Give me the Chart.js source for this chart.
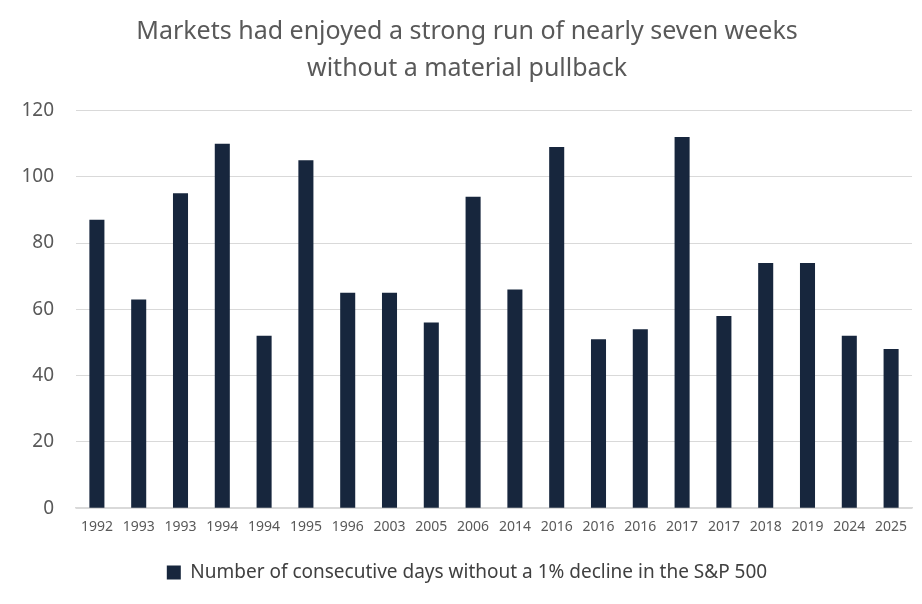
<!DOCTYPE html>
<html>
<head>
<meta charset="utf-8">
<script src="https://cdn.jsdelivr.net/npm/chart.js@4/dist/chart.umd.min.js"></script>
<style>
  html, body { margin: 0; padding: 0; background: #fff; }
  #wrap { width: 922px; height: 604px; }
</style>
</head>
<body>
<div id="wrap"><canvas id="myChart"></canvas></div>
<script>
"use strict";

const years = ["1992", "1993", "1993", "1994", "1994", "1995", "1996", "2003", "2005", "2006",
  "2014", "2016", "2016", "2016", "2017", "2017", "2018", "2019", "2024", "2025"];
const days = [87, 63, 95, 110, 52, 105, 65, 65, 56, 94, 66, 109, 51, 54, 112, 58, 74, 74, 52, 48];
const seriesLabel = "Number of consecutive days without a 1% decline in the S&P 500";
const titleLines = ["Markets had enjoyed a strong run of nearly seven weeks", "without a material pullback"];

const config = {
  type: "bar",
  data: {
    labels: years,
    datasets: [
      {
        label: seriesLabel,
        data: days,
        backgroundColor: "#17263d",
        borderWidth: 0,
        categoryPercentage: 1.0,
        barPercentage: 0.36,
      },
    ],
  },
  options: {
    responsive: true,
    maintainAspectRatio: false,
    animation: false,
    layout: { padding: { left: 22, right: 10, top: 10, bottom: 12 } },
    plugins: {
      title: {
        display: true,
        text: titleLines,
        color: "#595959",
        font: { family: "Noto Sans", size: 25, weight: "normal", lineHeight: 1.45 },
        padding: { top: 4, bottom: 24 },
      },
      legend: {
        position: "bottom",
        labels: {
          color: "#404040",
          font: { family: "Noto Sans", size: 19 },
          boxWidth: 14,
          boxHeight: 14,
          padding: 26,
        },
      },
      tooltip: { enabled: false },
    },
    scales: {
      x: {
        grid: { display: false },
        border: { color: "#d9d9d9", width: 1.5 },
        ticks: { color: "#595959", font: { family: "Noto Sans", size: 14 }, maxRotation: 0, autoSkip: false, padding: 2 },
      },
      y: {
        min: 0,
        max: 120,
        grid: { color: "#d9d9d9", drawTicks: false },
        border: { display: false },
        ticks: { stepSize: 20, color: "#595959", font: { family: "Noto Sans", size: 19 }, padding: 22 },
        afterFit: function (scale) {
          scale.width = 54;
        },
      },
    },
  },
};

new Chart(document.getElementById("myChart"), config);
</script>
</body>
</html>
